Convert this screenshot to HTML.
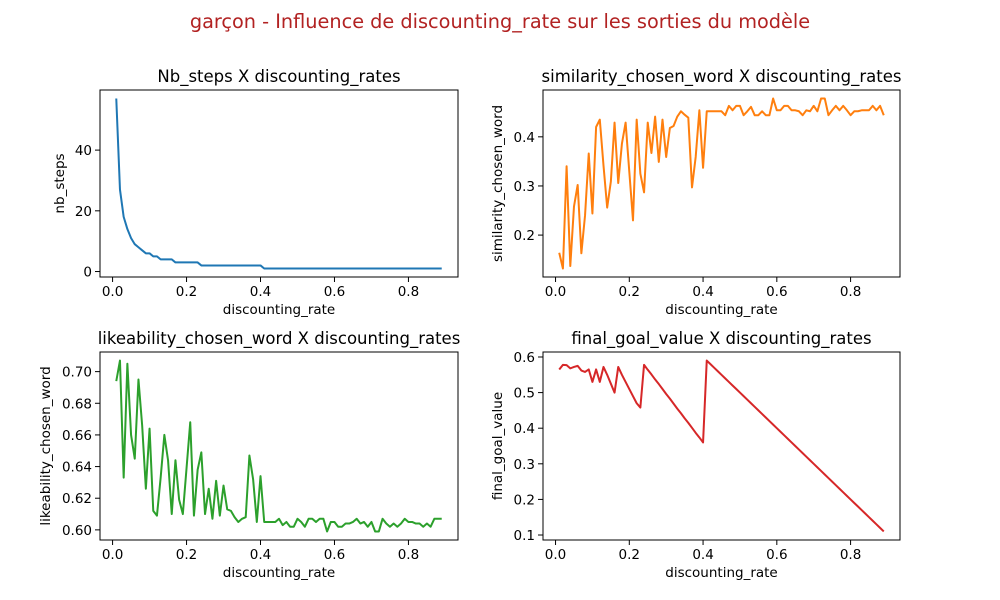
<!DOCTYPE html>
<html><head><meta charset="utf-8"><style>
body{margin:0;background:#fff;}
svg{display:block;font-family:"DejaVu Sans","Liberation Sans",sans-serif;}
</style></head><body>
<svg id="fig" width="1000" height="600" viewBox="0 0 1000 600">
<rect width="1000" height="600" fill="#fff"/>
<text x="500" y="28" text-anchor="middle" font-size="19.3" fill="#b22222">garçon - Influence de discounting_rate sur les sorties du modèle</text>
</svg>
<script>
const nbSteps=[57,27,18,14,11,9,8,7,6,6,5,5,4,4,4,4,3,3,3,3,3,3,3,2,2,2,2,2,2,2,2,2,2,2,2,2,2,2,2,2,1,1,1,1,1,1,1,1,1,1,1,1,1,1,1,1,1,1,1,1,1,1,1,1,1,1,1,1,1,1,1,1,1,1,1,1,1,1,1,1,1,1,1,1,1,1,1,1,1];
const similarity=[0.164,0.132,0.34,0.137,0.258,0.302,0.163,0.24,0.366,0.244,0.42,0.435,0.342,0.256,0.309,0.429,0.306,0.386,0.429,0.329,0.23,0.435,0.325,0.287,0.429,0.367,0.441,0.349,0.435,0.359,0.418,0.422,0.441,0.452,0.445,0.439,0.297,0.359,0.454,0.337,0.452,0.452,0.452,0.452,0.452,0.444,0.463,0.454,0.463,0.463,0.444,0.452,0.461,0.444,0.444,0.452,0.444,0.444,0.478,0.454,0.454,0.463,0.463,0.454,0.454,0.452,0.444,0.454,0.452,0.463,0.452,0.478,0.478,0.444,0.454,0.463,0.454,0.463,0.454,0.444,0.452,0.452,0.454,0.454,0.454,0.463,0.454,0.463,0.444];
const likeability=[0.694,0.707,0.633,0.705,0.66,0.645,0.695,0.666,0.626,0.664,0.612,0.609,0.633,0.66,0.644,0.61,0.644,0.619,0.61,0.639,0.668,0.609,0.638,0.649,0.61,0.626,0.607,0.631,0.609,0.628,0.613,0.612,0.608,0.605,0.607,0.608,0.647,0.632,0.605,0.634,0.605,0.605,0.605,0.605,0.607,0.603,0.605,0.602,0.602,0.607,0.605,0.602,0.607,0.607,0.605,0.607,0.607,0.599,0.605,0.605,0.602,0.602,0.604,0.604,0.605,0.607,0.604,0.605,0.602,0.605,0.599,0.599,0.607,0.604,0.602,0.604,0.602,0.604,0.607,0.605,0.605,0.604,0.604,0.602,0.604,0.602,0.607,0.607,0.607];
const finalGoal=[0.565,0.578,0.577,0.568,0.572,0.575,0.562,0.558,0.565,0.53,0.565,0.53,0.572,0.55,0.525,0.5,0.572,0.55,0.53,0.51,0.49,0.47,0.458,0.578,0.564,0.551,0.537,0.524,0.51,0.496,0.483,0.469,0.455,0.442,0.428,0.415,0.401,0.387,0.374,0.36,0.59,0.58,0.57,0.56,0.55,0.54,0.53,0.52,0.51,0.5,0.49,0.48,0.47,0.46,0.45,0.44,0.43,0.42,0.41,0.4,0.39,0.38,0.37,0.36,0.35,0.34,0.33,0.32,0.31,0.3,0.29,0.28,0.27,0.26,0.25,0.24,0.23,0.22,0.21,0.2,0.19,0.18,0.17,0.16,0.15,0.14,0.13,0.12,0.11];
const rates=nbSteps.map((_,i)=>(i+1)/100);
const xTicks=[0.0,0.2,0.4,0.6,0.8];
const xTickLabels=["0.0","0.2","0.4","0.6","0.8"];
const NS="http://www.w3.org/2000/svg";
const svg=document.getElementById('fig');
function mk(tag,attrs,parent){const e=document.createElementNS(NS,tag);for(const k in attrs)e.setAttribute(k,attrs[k]);(parent||svg).appendChild(e);return e;}
function plot(cfg){
  const {x0,y0,w,h,data,color,yTicks,yTickLabels,title,ylabel,name}=cfg;
  const g=mk('g',{});
  
  
  const xmn=Math.min(...rates),xmx=Math.max(...rates),xp=(xmx-xmn)*0.05;
  const ymn=Math.min(...data),ymx=Math.max(...data),yp=(ymx-ymn)*0.05;
  const sx=v=>x0+(v-(xmn-xp))/((xmx+xp)-(xmn-xp))*w;
  const sy=v=>y0+h-(v-(ymn-yp))/((ymx+yp)-(ymn-yp))*h;
  const pts=data.map((v,i)=>sx(rates[i]).toFixed(2)+','+sy(v).toFixed(2)).join(' ');
  const line=mk('polyline',{points:pts,fill:'none',stroke:color,'stroke-width':2,'stroke-linejoin':'round'},g);
  
  
  const fr=mk('rect',{x:x0,y:y0,width:w,height:h,fill:'none',stroke:'#000','stroke-width':1},g);
  
  
  xTicks.forEach((t,i)=>{const X=sx(t);mk('line',{x1:X,x2:X,y1:y0+h,y2:y0+h+5,stroke:'#000'},g);
    const tx=mk('text',{x:X,y:y0+h+19,'text-anchor':'middle','font-size':13.5},g);tx.textContent=xTickLabels[i];
    
    });
  yTicks.forEach((t,i)=>{const Y=sy(t);mk('line',{x1:x0-5,x2:x0,y1:Y,y2:Y,stroke:'#000'},g);
    const tx=mk('text',{x:x0-8,y:Y+5,'text-anchor':'end','font-size':13.5},g);tx.textContent=yTickLabels[i];
    
    });
  const tt=mk('text',{x:x0+w/2,y:y0-8,'text-anchor':'middle','font-size':16.5},g);tt.textContent=title;
  
  
  const xl=mk('text',{x:x0+w/2,y:y0+h+37,'text-anchor':'middle','font-size':13.5},g);xl.textContent='discounting_rate';
  
  
  const yl=mk('text',{x:0,y:0,'text-anchor':'middle','font-size':13.5,transform:`translate(${cfg.ylx},${y0+h/2}) rotate(-90)`},g);yl.textContent=ylabel;
  
  
}
plot({x0:100,y0:90,w:358,h:187,data:nbSteps,color:'#1f77b4',yTicks:[0,20,40],yTickLabels:["0","20","40"],title:'Nb_steps X discounting_rates',ylabel:'nb_steps',ylx:64,name:'nb-steps-chart'});
plot({x0:543,y0:90,w:357,h:187,data:similarity,color:'#ff7f0e',yTicks:[0.2,0.3,0.4],yTickLabels:["0.2","0.3","0.4"],title:'similarity_chosen_word X discounting_rates',ylabel:'similarity_chosen_word',ylx:502,name:'similarity-chart'});
plot({x0:100,y0:352,w:358,h:188,data:likeability,color:'#2ca02c',yTicks:[0.60,0.62,0.64,0.66,0.68,0.70],yTickLabels:["0.60","0.62","0.64","0.66","0.68","0.70"],title:'likeability_chosen_word X discounting_rates',ylabel:'likeability_chosen_word',ylx:50,name:'likeability-chart'});
plot({x0:543,y0:352,w:357,h:188,data:finalGoal,color:'#d62728',yTicks:[0.1,0.2,0.3,0.4,0.5,0.6],yTickLabels:["0.1","0.2","0.3","0.4","0.5","0.6"],title:'final_goal_value X discounting_rates',ylabel:'final_goal_value',ylx:502,name:'final-goal-chart'});
</script>
</body></html>
